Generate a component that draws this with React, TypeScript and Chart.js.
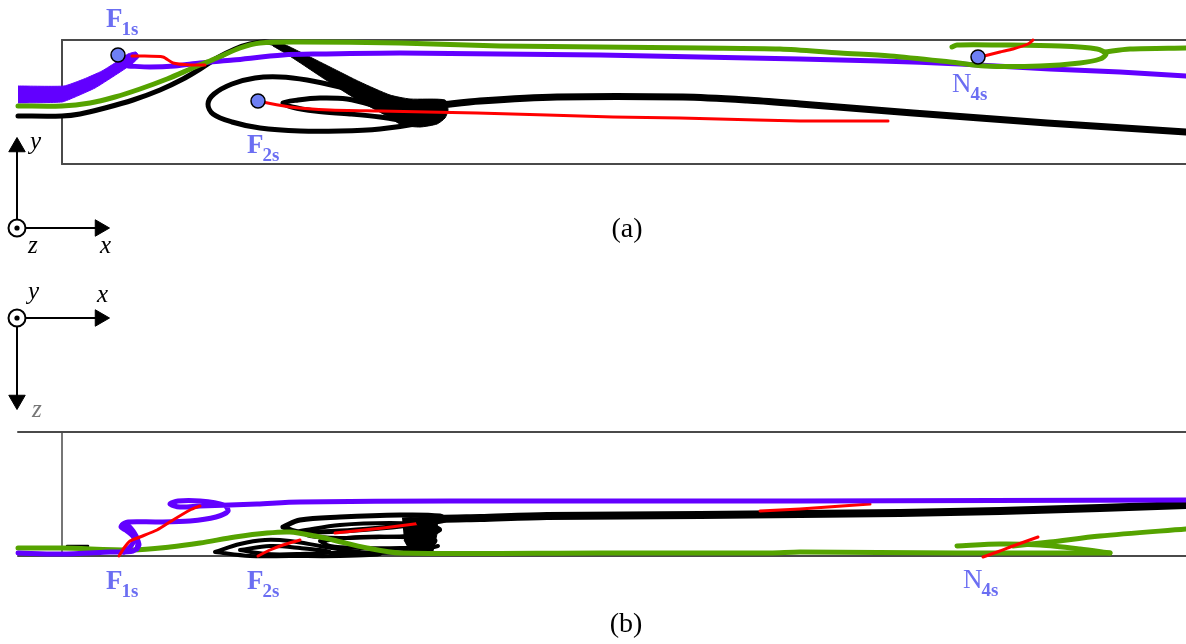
import React, { useEffect, useRef } from "react";
import { Chart, registerables } from "chart.js";

Chart.register(...registerables);

// ---------- canvas extent (data units == image units) ----------
const X_MAX = 1186;
const Y_MAX = 644;

// ---------- frames ----------
const frameA_top = [[62, 40], [1186, 40]];
const frameA_bottom = [[62, 164], [1186, 164]];
const frameA_leftUpper = [[62, 40], [62, 87]];
const frameA_leftLower = [[62, 116], [62, 164]];
const frameB_top = [[18, 432], [1186, 432]];
const frameB_bottom = [[18, 556], [1186, 556]];
const frameB_left = [[62, 432], [62, 556]];

// ---------- panel (a) streamlines ----------
const aPurpleWedge = [[18, 86], [64, 86], [84, 79], [102, 71], [118, 61], [128, 54], [136, 52], [139, 57], [132, 64], [114, 76], [95, 88], [75, 97], [62, 102], [18, 103]];
const aPurpleLine = [[128, 66], [150, 67], [175, 66], [200, 63], [233, 60], [283, 55], [320, 54], [400, 53], [500, 54], [600, 55], [700, 57], [800, 59], [880, 61], [960, 64], [1050, 69], [1120, 72], [1186, 76]];
const aGreenMain = [[18, 106], [62, 106], [90, 103], [115, 97], [140, 89], [167, 79], [195, 67], [217, 58], [240, 48], [260, 43], [300, 42], [400, 43], [500, 46], [600, 47], [700, 48], [780, 49], [840, 53], [890, 56], [950, 62], [985, 66], [1040, 66], [1080, 63], [1100, 59], [1106, 54], [1097, 49], [1060, 46], [1000, 45], [957, 45], [952, 47]];
const aGreenTail = [[1104, 52], [1130, 49], [1186, 48]];
const aRedF1 = [[132, 56], [140, 56], [163, 57], [173, 63], [190, 65], [205, 65]];
const aRedF2 = [[262, 102], [290, 107], [330, 110], [380, 111], [427, 112], [477, 113], [547, 115], [613, 117], [680, 118], [757, 120], [800, 121], [888, 121]];
const aRedN4 = [[984, 56], [1000, 52], [1013, 49], [1028, 44], [1033, 40]];
const aBlackInlet = [[18, 116], [62, 116], [80, 114], [105, 108], [133, 100], [160, 90], [183, 79], [200, 69], [217, 58], [235, 49], [250, 44], [265, 42], [282, 45]];
const aBlackBand = [[265, 41], [283, 44], [300, 52], [330, 67], [360, 82], [390, 95], [410, 99], [445, 100], [448, 110], [445, 118], [437, 124], [420, 127], [402, 125], [387, 116], [356, 99], [326, 80], [302, 64], [285, 53], [273, 46]];
const aBlackOuterLoop = [[400, 104], [370, 95], [340, 87], [307, 80], [280, 77], [255, 78], [232, 84], [214, 94], [208, 104], [213, 114], [232, 122], [260, 128], [300, 131], [340, 131], [380, 129], [415, 124], [438, 118], [428, 112], [400, 104]];
const aBlackInnerLoop = [[395, 113], [372, 105], [347, 99], [320, 98], [298, 100], [283, 103], [292, 107], [315, 111], [350, 114], [380, 117], [402, 120], [420, 119], [395, 113]];
const aBlackWake = [[440, 105], [480, 101], [557, 97], [683, 97], [747, 100], [800, 104], [913, 113], [1047, 123], [1186, 132]];

// ---------- panel (b) streamlines ----------
const bPurple = [[18, 553], [60, 554], [110, 552], [133, 551], [139, 545], [135, 537], [128, 530], [122, 525], [128, 522], [157, 522], [190, 521], [216, 517], [228, 511], [224, 505], [200, 501], [178, 501], [170, 504], [180, 507], [200, 506], [230, 505], [257, 504], [300, 502], [450, 501], [800, 501], [1186, 500]];
const bPurpleKnot = [[124, 552], [131, 546], [134, 538], [127, 531], [121, 527], [126, 524], [133, 531], [138, 541], [137, 549]];
const bRedF1 = [[119, 556], [124, 548], [130, 541], [140, 537], [157, 530], [173, 520], [190, 510], [200, 506]];
const bRedF2a = [[258, 556], [270, 550], [283, 545], [300, 540]];
const bRedF2b = [[335, 533], [383, 528], [430, 522], [450, 520]];
const bRedWake = [[760, 511], [800, 509], [870, 504]];
const bRedN4 = [[983, 557], [1000, 551], [1013, 546], [1038, 537]];
const bGreenMain = [[18, 548], [62, 548], [133, 550], [170, 547], [200, 543], [235, 537], [267, 533], [290, 532], [315, 536], [333, 540], [367, 548], [400, 553], [600, 553], [770, 553], [800, 552], [957, 553], [1110, 553]];
const bGreenLoop = [[957, 546], [1000, 544], [1040, 545], [1080, 549], [1110, 553]];
const bGreenTail = [[1013, 546], [1050, 542], [1100, 536], [1186, 529]];
const bBlackDash = [[67, 546], [88, 546]];
const bBlackLoopLow = [[215, 552], [240, 544], [265, 540], [290, 541], [320, 546], [350, 551], [380, 554], [340, 556], [290, 556], [250, 556], [215, 552]];
const bBlackLoopLow2 = [[240, 550], [270, 546], [300, 548], [330, 552], [300, 554], [265, 554], [240, 550]];
const bBlackLoopUp = [[283, 527], [300, 520], [340, 517], [400, 515], [440, 516], [445, 520], [420, 524], [380, 528], [340, 531], [300, 532], [283, 527]];
const bBlackLoopUp2 = [[300, 531], [340, 525], [390, 523], [430, 525], [440, 530], [420, 535], [380, 537], [340, 538], [310, 536], [300, 531]];
const bBlackLoopMid = [[320, 541], [360, 537], [400, 537], [435, 540], [430, 546], [400, 548], [360, 548], [330, 546], [320, 541]];
const bBlackStrand = [[330, 553], [380, 553], [415, 551], [438, 546]];
const bBlackMass = [[402, 518], [437, 516], [437, 534], [433, 551], [410, 551], [404, 540]];
const bBlackBand = [[420, 522], [440, 519], [480, 518], [547, 516], [700, 515], [800, 514], [900, 513], [1000, 511], [1100, 508], [1186, 505]];

// ---------- critical-point markers (panel a) ----------
const markerPoints = [[118, 55], [258, 101], [978, 57]];

// ---------- coordinate triads ----------
const triadOrigins = [[17, 228], [17, 318]];
const shaftAy = [[17, 220], [17, 147]];
const shaftAx = [[26, 228], [100, 228]];
const shaftBx = [[26, 318], [100, 318]];
const shaftBz = [[17, 327], [17, 400]];
const arrowHeads = [[17, 147], [100, 228], [100, 318], [17, 400]];
const arrowRotations = [0, 90, 90, 180];

// ---------- text ----------
const captionTexts = ["(a)", "(b)"];
const captionX = [627, 626];
const captionY = [237, 632];
const axisLetters = ["y", "z", "x", "y", "x", "z"];
const axisLetterX = [30, 28, 100, 28, 97, 32];
const axisLetterY = [149, 253, 253, 299, 302, 417];
const axisLetterColor = ["#000", "#000", "#000", "#000", "#000", "#777"];
const pointMain = ["F", "F", "N", "F", "F", "N"];
const pointSub = ["1s", "2s", "4s", "1s", "2s", "4s"];
const pointMainBold = [true, true, false, true, true, false];
const pointX = [106, 247, 952, 106, 247, 963];
const pointY = [27, 153, 92, 589, 589, 588];

// ---------- colours ----------
const PURPLE = "#6200ff";
const GREEN = "#55a300";
const RED = "#ff0000";
const BLACK = "#000000";
const FRAME = "#4a4a4a";
const LABEL = "#6b6ef2";
const MARKER = "#6e7ff4";

const pts = (a: number[][]) => a.map(([x, y]) => ({ x, y }));

const line = (d: number[][], color: string, width: number, tension = 0.3) => ({
  data: pts(d),
  borderColor: color,
  backgroundColor: color,
  borderWidth: width,
  pointRadius: 0,
  pointHoverRadius: 0,
  tension,
  fill: false,
  borderJoinStyle: "round",
  borderCapStyle: "round",
});

const shape = (d: number[][], color: string, tension = 0.2) => ({
  data: pts(d),
  borderColor: color,
  backgroundColor: color,
  borderWidth: 1,
  pointRadius: 0,
  pointHoverRadius: 0,
  tension,
  fill: "shape",
});

const textPlugin = {
  id: "figureText",
  afterDatasetsDraw(chart: any) {
    const { ctx } = chart;
    const sx = chart.scales.x;
    const sy = chart.scales.y;
    ctx.save();
    ctx.textBaseline = "alphabetic";
    // captions
    ctx.fillStyle = "#000";
    ctx.textAlign = "center";
    ctx.font = '28px "Liberation Serif", serif';
    captionTexts.forEach((t, i) => {
      ctx.fillText(t, sx.getPixelForValue(captionX[i]), sy.getPixelForValue(captionY[i]));
    });
    // axis letters
    ctx.textAlign = "left";
    ctx.font = 'italic 25px "Liberation Serif", serif';
    axisLetters.forEach((t, i) => {
      ctx.fillStyle = axisLetterColor[i];
      ctx.fillText(t, sx.getPixelForValue(axisLetterX[i]), sy.getPixelForValue(axisLetterY[i]));
    });
    // critical point names
    ctx.fillStyle = LABEL;
    pointMain.forEach((t, i) => {
      const px = sx.getPixelForValue(pointX[i]);
      const py = sy.getPixelForValue(pointY[i]);
      ctx.font = (pointMainBold[i] ? "bold " : "") + '27px "Liberation Serif", serif';
      ctx.fillText(t, px, py);
      const w = ctx.measureText(t).width;
      ctx.font = 'bold 19px "Liberation Serif", serif';
      ctx.fillText(pointSub[i], px + w - 1, py + 8);
    });
    ctx.restore();
  },
};

export default function App() {
  const ref = useRef<HTMLCanvasElement>(null);

  useEffect(() => {
    const layers: any[] = [
      line(frameA_top, FRAME, 2, 0),
      line(frameA_bottom, FRAME, 2, 0),
      line(frameA_leftUpper, FRAME, 2, 0),
      line(frameA_leftLower, FRAME, 2, 0),
      line(frameB_top, FRAME, 2, 0),
      line(frameB_bottom, FRAME, 2, 0),
      line(frameB_left, FRAME, 1.5, 0),
      // panel a
      line(aBlackWake, BLACK, 7, 0.3),
      line(aBlackOuterLoop, BLACK, 5, 0.35),
      line(aBlackInnerLoop, BLACK, 5, 0.35),
      shape(aBlackBand, BLACK, 0.2),
      line(aBlackInlet, BLACK, 5, 0.3),
      line(aRedF2, RED, 3, 0.2),
      line(aPurpleLine, PURPLE, 5, 0.3),
      shape(aPurpleWedge, PURPLE, 0.15),
      line(aGreenMain, GREEN, 5, 0.3),
      line(aGreenTail, GREEN, 5, 0.3),
      line(aRedF1, RED, 3, 0.2),
      line(aRedN4, RED, 3, 0.2),
      // panel b
      line(bBlackDash, BLACK, 2.5, 0),
      line(bBlackLoopLow, BLACK, 4, 0.35),
      line(bBlackLoopLow2, BLACK, 4, 0.35),
      line(bBlackLoopMid, BLACK, 4, 0.35),
      line(bBlackStrand, BLACK, 4, 0.3),
      line(bBlackLoopUp2, BLACK, 4, 0.35),
      line(bBlackLoopUp, BLACK, 5, 0.35),
      shape(bBlackMass, BLACK, 0),
      line(bRedF2b, RED, 3, 0.2),
      line(bBlackBand, BLACK, 8, 0.3),
      line(bRedWake, RED, 3, 0.2),
      line(bGreenMain, GREEN, 5, 0.3),
      line(bGreenLoop, GREEN, 5, 0.3),
      line(bGreenTail, GREEN, 5, 0.3),
      line(bRedF2a, RED, 3, 0.2),
      line(bPurple, PURPLE, 5, 0.3),
      line(bPurpleKnot, PURPLE, 5, 0.3),
      line(bRedF1, RED, 3, 0.2),
      line(bRedN4, RED, 3, 0.2),
      // triads
      line(shaftAy, BLACK, 2, 0),
      line(shaftAx, BLACK, 2, 0),
      line(shaftBx, BLACK, 2, 0),
      line(shaftBz, BLACK, 2, 0),
      {
        data: pts(arrowHeads),
        showLine: false,
        pointStyle: "triangle",
        pointRotation: arrowRotations,
        pointRadius: 9.5,
        pointHoverRadius: 9.5,
        pointBackgroundColor: BLACK,
        pointBorderColor: BLACK,
        pointBorderWidth: 1,
      },
      {
        data: pts(triadOrigins),
        showLine: false,
        pointStyle: "circle",
        pointRadius: 8.5,
        pointHoverRadius: 8.5,
        pointBackgroundColor: "#ffffff",
        pointBorderColor: BLACK,
        pointBorderWidth: 2,
      },
      {
        data: pts(triadOrigins),
        showLine: false,
        pointStyle: "circle",
        pointRadius: 2.6,
        pointHoverRadius: 2.6,
        pointBackgroundColor: BLACK,
        pointBorderColor: BLACK,
        pointBorderWidth: 0,
      },
      // markers
      {
        data: pts(markerPoints),
        showLine: false,
        pointStyle: "circle",
        pointRadius: 7,
        pointHoverRadius: 7,
        pointBackgroundColor: MARKER,
        pointBorderColor: BLACK,
        pointBorderWidth: 1.5,
      },
    ];
    const n = layers.length;
    const datasets = layers.map((d, i) => ({ ...d, order: n - i, clip: 10 }));

    const chart = new Chart(ref.current as HTMLCanvasElement, {
      type: "line",
      data: { datasets },
      options: {
        animation: false,
        responsive: false,
        devicePixelRatio: 1,
        events: [],
        layout: { padding: 0, autoPadding: false },
        plugins: { legend: { display: false }, tooltip: { enabled: false } },
        scales: {
          x: { type: "linear", min: 0, max: X_MAX, display: false },
          y: { type: "linear", min: 0, max: Y_MAX, reverse: true, display: false },
        },
      },
      plugins: [textPlugin],
    } as any);
    return () => chart.destroy();
  }, []);

  return (
    <div style={{ position: "fixed", left: 0, top: 0, width: X_MAX, height: Y_MAX, background: "#fff" }}>
      <canvas ref={ref} width={X_MAX} height={Y_MAX} style={{ display: "block" }} />
    </div>
  );
}
